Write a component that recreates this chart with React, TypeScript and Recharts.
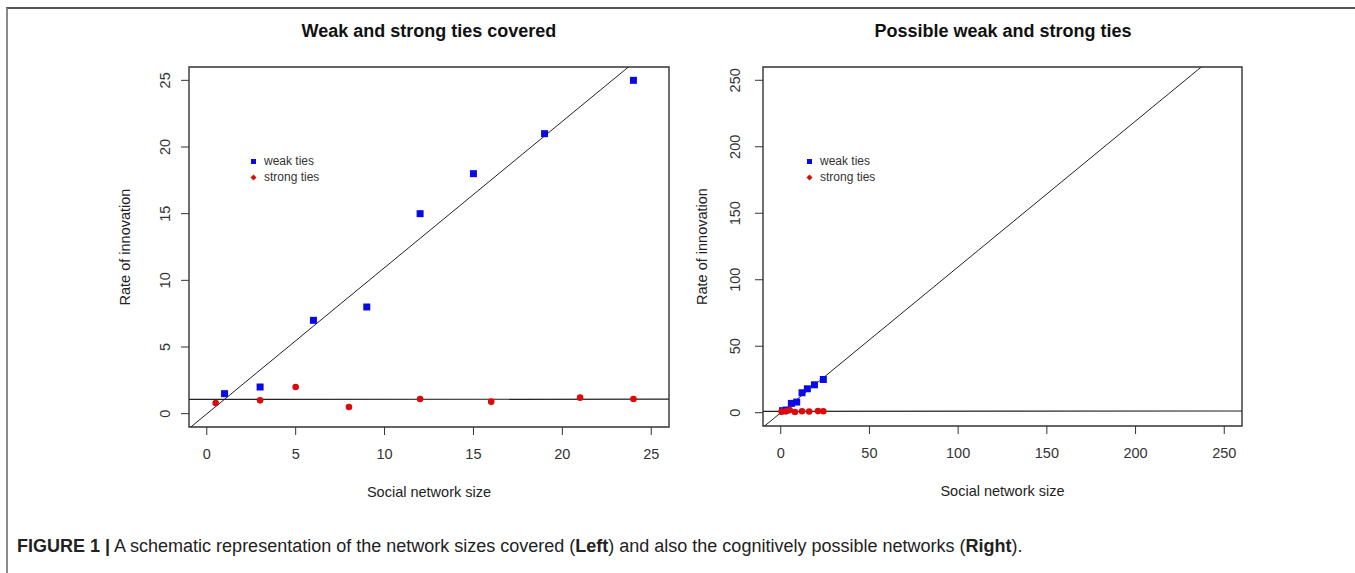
import React from 'react';
import {
  ScatterChart,
  Scatter,
  XAxis,
  YAxis,
  ReferenceLine,
  ReferenceArea,
  Legend,
} from 'recharts';

// network size (x) and rate of innovation (y) for each tie type
const weakSize = [1, 3, 6, 9, 12, 15, 19, 24];
const weakRate = [1.5, 2, 7, 8, 15, 18, 21, 25];
const strongSize = [0.5, 3, 5, 8, 12, 16, 21, 24];
const strongRate = [0.8, 1.0, 2.0, 0.5, 1.1, 0.9, 1.2, 1.1];

const leftTicks = [0, 5, 10, 15, 20, 25];
const rightTicks = [0, 50, 100, 150, 200, 250];
const leftDomain: [number, number] = [-1, 26];
const rightDomain: [number, number] = [-10, 260];

const weakData = weakSize.map((x, i) => ({ x, y: weakRate[i] }));
const strongData = strongSize.map((x, i) => ({ x, y: strongRate[i] }));

const FONT = '"Liberation Sans", Arial, sans-serif';
const BLUE = '#0a0ae6';
const RED = '#dc0a0a';
const INK = '#333';

// least squares fit, like R's abline(lm(y ~ x))
function fit(xs: number[], ys: number[]) {
  const n = xs.length;
  const mx = xs.reduce((s, v) => s + v, 0) / n;
  const my = ys.reduce((s, v) => s + v, 0) / n;
  let sxy = 0;
  let sxx = 0;
  xs.forEach((x, i) => {
    sxy += (x - mx) * (ys[i] - my);
    sxx += (x - mx) * (x - mx);
  });
  const b = sxy / sxx;
  return { a: my - b * mx, b };
}

const weakFit = fit(weakSize, weakRate);
const strongFit = fit(strongSize, strongRate);

const Square = (p: any) => (
  <rect x={p.cx - 3.5} y={p.cy - 3.5} width={7} height={7} fill={BLUE} />
);
const Dot = (p: any) => <circle cx={p.cx} cy={p.cy} r={3.3} fill={RED} />;

const renderLegend = () => (
  <div style={{ fontSize: 12, color: INK, lineHeight: '15.5px', fontFamily: FONT }}>
    <div style={{ display: 'flex', alignItems: 'center', height: 15.5 }}>
      <svg width={11} height={11} style={{ marginRight: 5 }}>
        <rect x={3} y={3} width={5} height={5} fill={BLUE} />
      </svg>
      weak ties
    </div>
    <div style={{ display: 'flex', alignItems: 'center', height: 15.5 }}>
      <svg width={11} height={11} style={{ marginRight: 5 }}>
        <polygon points="5.5,2.5 8.5,5.5 5.5,8.5 2.5,5.5" fill={RED} />
      </svg>
      strong ties
    </div>
  </div>
);

type PanelProps = {
  title: string;
  left: number;
  width: number;
  yAxisWidth: number;
  marginLeft: number;
  marginRight: number;
  xAxisHeight: number;
  domain: [number, number];
  ticks: number[];
  yGap: number;
  legendLeft: number;
  titleCenter: number;
};

function Panel(props: PanelProps) {
  const { domain, ticks, yGap } = props;
  const [lo, hi] = domain;

  const YTick = (t: any) => {
    const bx = t.x - yGap;
    return (
      <text
        x={bx}
        y={t.y}
        transform={`rotate(-90, ${bx}, ${t.y})`}
        textAnchor="middle"
        fontSize={14.5}
        fill={INK}
      >
        {t.payload.value}
      </text>
    );
  };
  const XTick = (t: any) => (
    <text x={t.x} y={t.y + 24} textAnchor="middle" fontSize={14.5} fill={INK}>
      {t.payload.value}
    </text>
  );

  return (
    <div style={{ position: 'absolute', left: props.left, top: 0 }}>
      <div
        style={{
          position: 'absolute',
          left: props.titleCenter - props.left - 200,
          width: 400,
          top: 22,
          textAlign: 'center',
          fontSize: 18,
          lineHeight: 1,
          fontWeight: 'bold',
          color: '#111',
          fontFamily: FONT,
        }}
      >
        {props.title}
      </div>
      <ScatterChart
        width={props.width}
        height={556}
        margin={{ top: 67, right: props.marginRight, left: props.marginLeft, bottom: 0 }}
        style={{ fontFamily: FONT }}
      >
        <XAxis
          type="number"
          dataKey="x"
          domain={domain}
          ticks={ticks}
          interval={0}
          allowDataOverflow
          height={props.xAxisHeight}
          axisLine={false}
          tickSize={8}
          tickMargin={0}
          tickLine={{ stroke: INK }}
          tick={XTick}
          label={{ value: 'Social network size', position: 'center', fill: '#222', fontSize: 14.5 }}
        />
        <YAxis
          type="number"
          dataKey="y"
          domain={domain}
          ticks={ticks}
          interval={0}
          allowDataOverflow
          width={props.yAxisWidth}
          axisLine={false}
          tickSize={8}
          tickMargin={0}
          tickLine={{ stroke: INK }}
          tick={YTick}
          label={{ value: 'Rate of innovation', angle: -90, position: 'center', fill: '#222', fontSize: 14.5 }}
        />
        <Legend
          layout="vertical"
          align="center"
          verticalAlign="middle"
          content={renderLegend}
          wrapperStyle={{ left: props.legendLeft, top: 154, width: 110, height: 31 }}
        />
        <Scatter name="weak ties" data={weakData} shape={Square} isAnimationActive={false} />
        <Scatter name="strong ties" data={strongData} shape={Dot} isAnimationActive={false} />
        <ReferenceLine
          segment={[
            { x: lo, y: weakFit.a + weakFit.b * lo },
            { x: hi, y: weakFit.a + weakFit.b * hi },
          ]}
          ifOverflow="hidden"
          stroke="#222"
          strokeWidth={1}
        />
        <ReferenceLine
          segment={[
            { x: lo, y: strongFit.a + strongFit.b * lo },
            { x: hi, y: strongFit.a + strongFit.b * hi },
          ]}
          ifOverflow="hidden"
          stroke="#222"
          strokeWidth={1.2}
        />
        <ReferenceArea
          x1={lo}
          x2={hi}
          y1={lo}
          y2={hi}
          fill="#fff"
          fillOpacity={0}
          stroke="#333"
          strokeWidth={1.4}
        />
      </ScatterChart>
    </div>
  );
}

export default function App() {
  return (
    <div
      style={{
        position: 'absolute',
        left: 0,
        top: 0,
        width: 1355,
        height: 573,
        overflow: 'hidden',
        background: '#fff',
        fontFamily: FONT,
      }}
    >
      <div
        style={{
          position: 'absolute',
          left: 6,
          top: 7,
          width: 1400,
          height: 600,
          borderLeft: '2px solid #8a8a8a',
          borderTop: '2px solid #555',
        }}
      />
      <Panel
        title="Weak and strong ties covered"
        left={0}
        width={700}
        yAxisWidth={128}
        marginLeft={61}
        marginRight={31}
        xAxisHeight={129}
        domain={leftDomain}
        ticks={leftTicks}
        yGap={11}
        legendLeft={248}
        titleCenter={429}
      />
      <Panel
        title="Possible weak and strong ties"
        left={640}
        width={640}
        yAxisWidth={122}
        marginLeft={1}
        marginRight={38}
        xAxisHeight={130}
        domain={rightDomain}
        ticks={rightTicks}
        yGap={15}
        legendLeft={164}
        titleCenter={1003}
      />
      <div
        style={{
          position: 'absolute',
          left: 17,
          top: 537,
          fontSize: 18,
          lineHeight: 1,
          color: '#222',
          whiteSpace: 'nowrap',
        }}
      >
        <b>FIGURE 1 |</b> A schematic representation of the network sizes covered (<b>Left</b>) and
        also the cognitively possible networks (<b>Right</b>).
      </div>
    </div>
  );
}
